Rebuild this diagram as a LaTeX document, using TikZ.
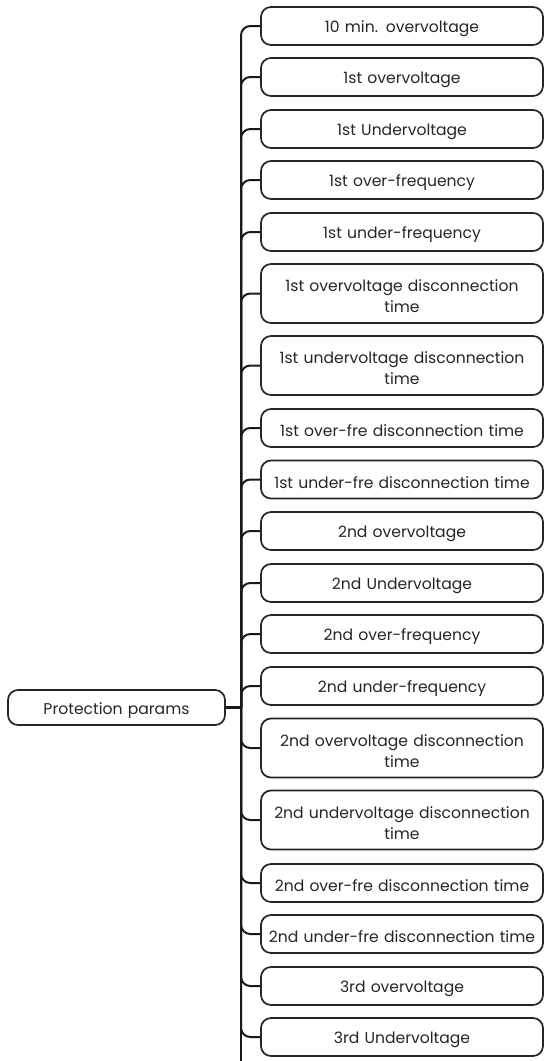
\documentclass[tikz,border=0pt]{standalone}
\usepackage{fontspec}
\setmainfont{Poppins}
\usetikzlibrary{positioning}

\begin{document}
\begin{tikzpicture}[x=0.75pt, y=-0.75pt,
    param/.style={draw=black!85, line width=1.3pt, rounded corners=7.5pt,
      fill=white, text=black!85, font=\fontsize{11.7}{15.8}\selectfont,
      align=center, minimum width=211.5pt, text width=205pt, inner sep=0pt,
      execute at begin node={\rule{0pt}{13pt}}},
    branch/.style={draw=black!90, line width=1.5pt, rounded corners=7pt}]
  % page frame, 545 x 1061 px
  \useasboundingbox (0,0) rectangle (545,1061);
  % root
  \node[param, minimum width=162.75pt, text width=150pt, minimum height=26.25pt]
    (root) at (116.5,707.5) {Protection params};
  \coordinate (jn) at (241,707.5);
  \coordinate (trunkend) at (241,1061);
  % children: y centre / height in px / label
  \foreach \i/\yc/\h/\txt in {
      1/26/38/{10 min. overvoltage},
      2/77/38/{1st overvoltage},
      3/129/38/{1st Undervoltage},
      4/180/38/{1st over-frequency},
      5/232/38/{1st under-frequency},
      6/293.5/59/{1st overvoltage disconnection\\time},
      7/365.5/59/{1st undervoltage disconnection\\time},
      8/428/38/{1st over-fre disconnection time},
      9/479.5/38/{1st under-fre disconnection time},
      10/531/38/{2nd overvoltage},
      11/583/38/{2nd Undervoltage},
      12/634/38/{2nd over-frequency},
      13/686/38/{2nd under-frequency},
      14/748/59/{2nd overvoltage disconnection\\time},
      15/820/59/{2nd undervoltage disconnection\\time},
      16/883/38/{2nd over-fre disconnection time},
      17/934/38/{2nd under-fre disconnection time},
      18/986/38/{3rd overvoltage},
      19/1037/38/{3rd Undervoltage}} {
    \draw[branch] (jn) |- (261,\yc);
    \node[param, minimum height=\h*0.75pt] (c\i) at (402,\yc) {\txt};
  }
  % trunk runs on past the last box
  \draw[branch] (jn) -- (trunkend);
  \draw[draw=black!90, line width=2.6pt] (root.east) -- (jn);
\end{tikzpicture}
\end{document}
